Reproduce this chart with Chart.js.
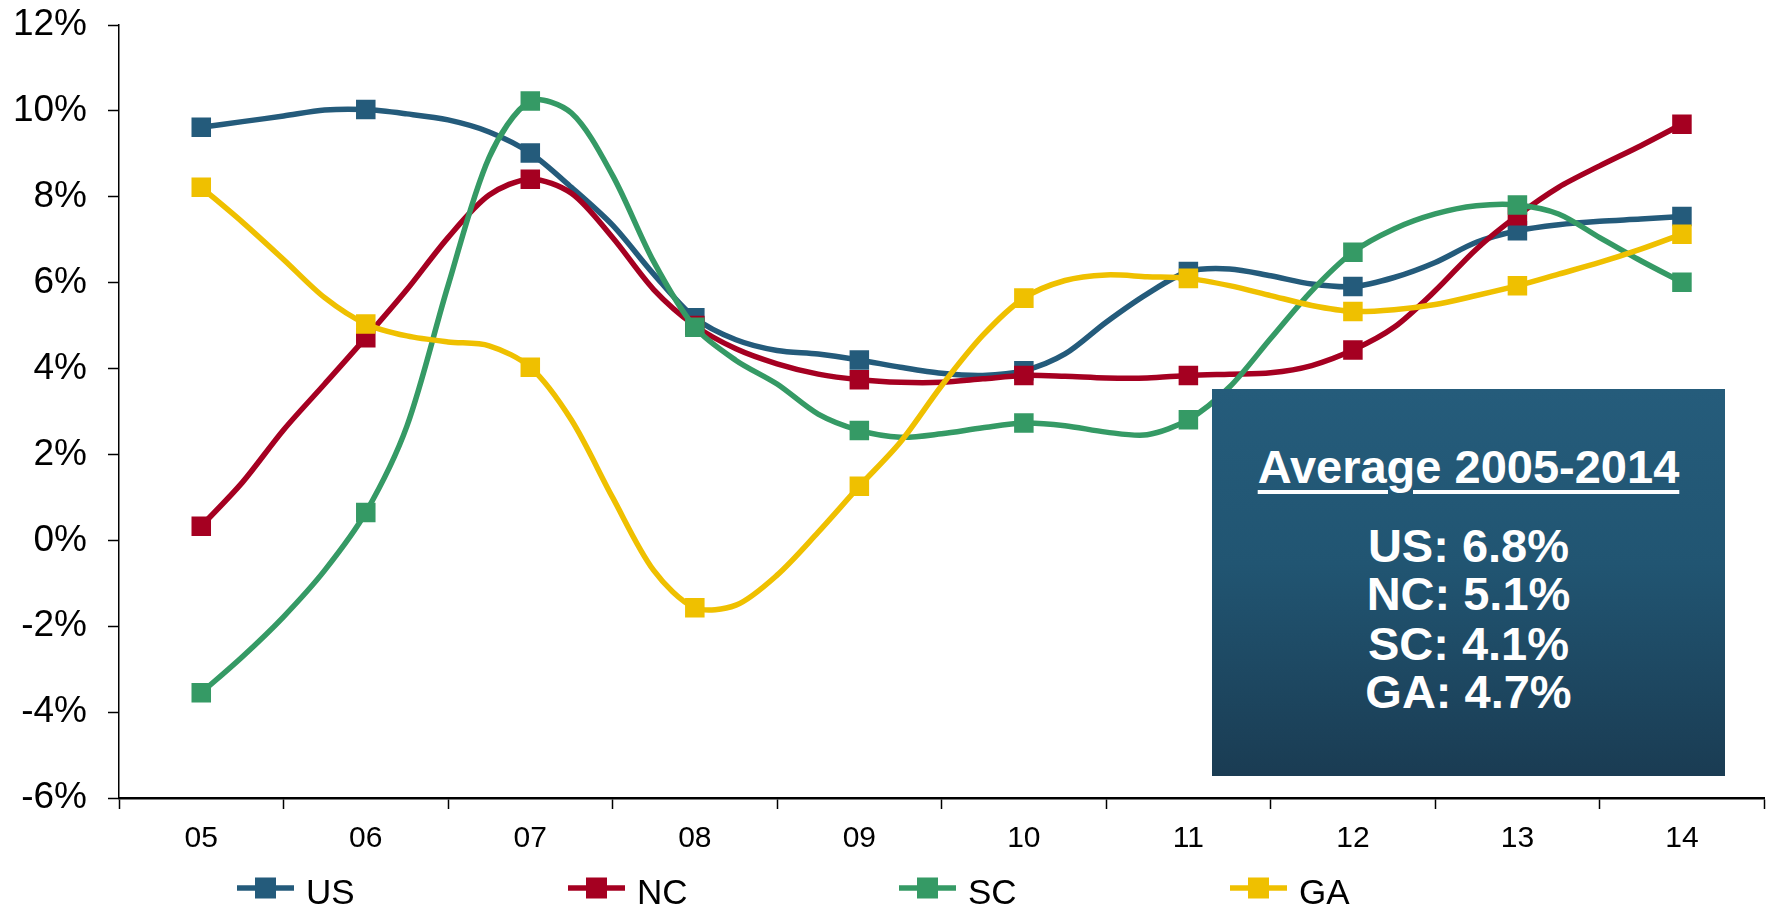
<!DOCTYPE html>
<html>
<head>
<meta charset="utf-8">
<script src="https://cdn.jsdelivr.net/npm/chart.js@4.4.0/dist/chart.umd.min.js"></script>
<style>
  html, body { margin:0; padding:0; background:#fff; overflow:hidden; width:1769px; height:908px; }
  #wrap { position:relative; width:1778px; height:908px; }
  canvas { position:absolute; left:0; top:0; }
  #avgBox { position:absolute; left:1212px; top:389px; width:513px; height:387px;
    background: linear-gradient(to bottom, #255c7b 0%, #215572 45%, #1a3c53 100%);
    color:#fff; font-family:"Liberation Sans", Arial, sans-serif; font-weight:bold; }
  #avgBox .ln { position:absolute; left:0; width:100%; text-align:center; font-size:47px; line-height:47px; white-space:nowrap; }
  #avgBox .title { text-decoration: underline; text-decoration-thickness: 4px; text-underline-offset: 7px; }
</style>
</head>
<body>
<div id="wrap">
  <canvas id="c" width="1778" height="908"></canvas>
  <div id="avgBox"></div>
</div>
<script>
// ---- data ----
const categories = ['05','06','07','08','09','10','11','12','13','14'];
const seriesNames = ['US','NC','SC','GA'];
const seriesColors = ['#245b7b','#a50021','#359a65','#efc000'];
// quarterly values, first point = 2005 marker, every 4th point is a yearly marker
const usValues = [9.62,9.75,9.88,10.02, 10.03,9.93,9.79,9.51, 9.02,8.22,7.34,6.2, 5.18,4.67,4.42,4.34,
  4.20,4.03,3.89,3.84, 3.95,4.34,5.08,5.74, 6.26,6.32,6.16,5.97, 5.91,6.12,6.47,6.94, 7.21,7.35,7.43,7.48, 7.54];
const ncValues = [0.33,1.35,2.57,3.64, 4.72,5.84,7.05,8.04, 8.41,8.08,7.05,5.84, 5.0,4.46,4.11,3.87,
  3.74,3.68,3.68,3.76, 3.84,3.82,3.78,3.78, 3.84,3.87,3.9,4.07, 4.43,4.96,5.81,6.78, 7.56,8.22,8.72,9.19, 9.69];
const scValues = [-3.55,-2.71,-1.78,-0.70, 0.65,2.66,5.93,8.92, 10.23,9.95,8.5,6.49, 4.96,4.19,3.64,2.94,
  2.56,2.40,2.48,2.62, 2.73,2.67,2.52,2.46, 2.81,3.57,4.7,5.81, 6.71,7.25,7.6,7.79, 7.81,7.6,7.05,6.51, 6.01];
const gaValues = [8.22,7.41,6.54,5.65, 5.04,4.76,4.62,4.53, 4.03,2.8,1.0,-0.7, -1.57,-1.51,-0.81,0.19,
  1.26,2.29,3.60,4.77, 5.64,6.05,6.18,6.14, 6.10,5.93,5.7,5.47, 5.33,5.37,5.49,5.70, 5.93,6.2,6.47,6.78, 7.13];
const yTicks = [-6,-4,-2,0,2,4,6,8,10,12];
const avgTitle = 'Average 2005-2014';
const avgLabels = ['US: 6.8%','NC: 5.1%','SC: 4.1%','GA: 4.7%'];

const allValues = [usValues, ncValues, scValues, gaValues];
const FONT = '"Liberation Sans", Arial, sans-serif';

// averages box text
const box = document.getElementById('avgBox');
const tops = [54, 133, 181, 231, 279];
[avgTitle].concat(avgLabels).forEach((t, i) => {
  const d = document.createElement('div');
  d.className = 'ln';
  d.style.top = tops[i] + 'px';
  d.innerHTML = i === 0 ? '<span class="title">' + t + '</span>' : t;
  box.appendChild(d);
});

const datasets = allValues.map((vals, si) => ({
  label: seriesNames[si],
  data: vals.map((v, i) => ({ x: 0.5 + i / 4, y: v })),
  borderColor: seriesColors[si],
  backgroundColor: seriesColors[si],
  borderWidth: 5.5,
  tension: 0.3,
  pointStyle: 'rect',
  pointRadius: (ctx) => (ctx.dataIndex % 4 === 0 ? 13.8 : 0),
  pointHoverRadius: (ctx) => (ctx.dataIndex % 4 === 0 ? 13.8 : 0),
  pointBorderWidth: 0,
  order: 4 - si
}));

const legendPlugin = {
  id: 'lineLegend',
  afterDraw(chart) {
    const ctx = chart.ctx;
    ctx.save();
    chart.data.datasets.forEach((ds, i) => {
      const x0 = 237 + 331 * i;
      const y = 888;
      ctx.strokeStyle = ds.borderColor;
      ctx.lineWidth = 5.5;
      ctx.beginPath();
      ctx.moveTo(x0, y);
      ctx.lineTo(x0 + 57, y);
      ctx.stroke();
      ctx.fillStyle = ds.borderColor;
      ctx.fillRect(x0 + 18, y - 10.5, 21, 21);
      ctx.fillStyle = '#000';
      ctx.font = '35px ' + FONT;
      ctx.textBaseline = 'alphabetic';
      ctx.textAlign = 'left';
      ctx.fillText(ds.label, x0 + 69, 904);
    });
    ctx.restore();
  }
};

new Chart(document.getElementById('c'), {
  type: 'line',
  data: { datasets },
  options: {
    responsive: false,
    animation: false,
    devicePixelRatio: 1,
    layout: { padding: { top: 25, left: 0, right: 0, bottom: 0 } },
    plugins: { legend: { display: false }, tooltip: { enabled: false } },
    scales: {
      x: {
        type: 'linear', min: 0, max: categories.length,
        afterFit: (s) => { s.height = 110; s.paddingLeft = 0; s.paddingRight = 0; },
        afterBuildTicks: (s) => {
          const t = [];
          for (let i = 0; i <= categories.length * 2; i++) t.push({ value: i / 2 });
          s.ticks = t;
        },
        ticks: {
          autoSkip: false, maxRotation: 0, minRotation: 0,
          color: '#000', font: { family: FONT, size: 30 }, padding: 12,
          callback: (v) => (v % 1 === 0.5 ? categories[Math.floor(v)] : '')
        },
        grid: {
          drawOnChartArea: false, tickLength: 11, tickWidth: 1.5,
          tickColor: (ctx) => (ctx.tick && ctx.tick.value % 1 === 0 ? '#000' : 'rgba(0,0,0,0)')
        },
        border: { color: '#000', width: 2.5 }
      },
      y: {
        min: -6, max: 12,
        afterFit: (s) => { s.width = 119; s.paddingTop = 0; s.paddingBottom = 0; },
        afterBuildTicks: (s) => { s.ticks = yTicks.map(v => ({ value: v })); },
        ticks: {
          color: '#000', font: { family: FONT, size: 37 }, padding: 21,
          callback: (v) => v + '%'
        },
        grid: { drawOnChartArea: false, tickLength: 11, tickWidth: 1.5, tickColor: '#000' },
        border: { color: '#000', width: 1.5 }
      }
    }
  },
  plugins: [legendPlugin]
});
</script>
</body>
</html>
